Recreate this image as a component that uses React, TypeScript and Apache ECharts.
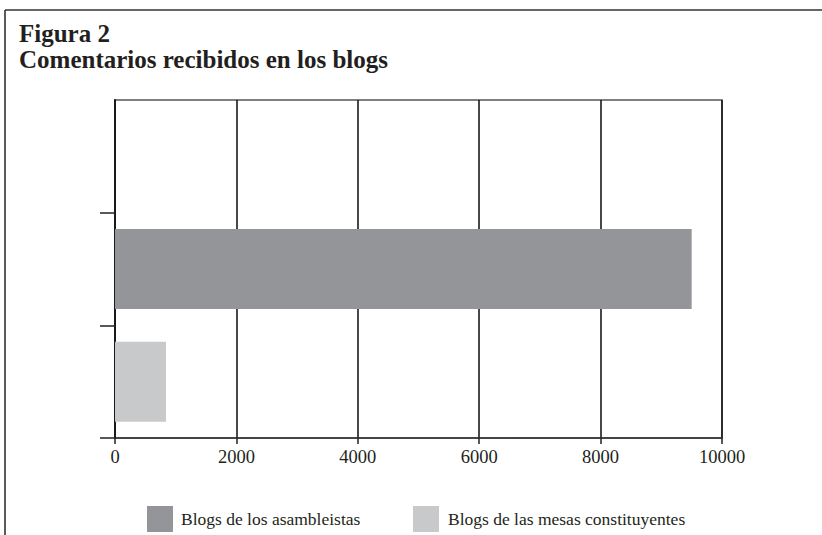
import React, { useEffect, useRef } from "react";
import * as echarts from "echarts";

const titleLines = ["Figura 2", "Comentarios recibidos en los blogs"];
const categories = ["", "Blogs de los asambleistas", "Blogs de las mesas constituyentes"];
const seriesNames = ["Blogs de los asambleistas", "Blogs de las mesas constituyentes"];
const asambleistas = [null, 9500, null];
const mesas = [null, null, 840];
const xMin = 0;
const xMax = 10000;
const xInterval = 2000;

const FONT = "'Liberation Serif', 'DejaVu Serif', serif";

export default function App() {
  const ref = useRef<HTMLDivElement>(null);
  useEffect(() => {
    document.body.style.margin = "0";
    const chart = echarts.init(ref.current!, null, { renderer: "svg" });
    chart.setOption({
      animation: false,
      backgroundColor: "#ffffff",
      title: {
        text: titleLines.join("\n"),
        left: 19,
        top: 20,
        padding: 0,
        textStyle: {
          fontFamily: FONT,
          fontSize: 25,
          fontWeight: "bold",
          lineHeight: 26.5,
          color: "#231f20",
        },
      },
      graphic: [
        { type: "line", shape: { x1: 5, y1: 10, x2: 822, y2: 10 }, style: { stroke: "#333", lineWidth: 1.6 } },
        { type: "line", shape: { x1: 5, y1: 10, x2: 5, y2: 535 }, style: { stroke: "#333", lineWidth: 1.6 } },
      ],
      legend: [
        {
          data: [seriesNames[0]],
          left: 147,
          top: 506,
          itemWidth: 26,
          itemHeight: 26,
          icon: "rect",
          padding: 0,
          textStyle: { fontFamily: FONT, fontSize: 17.5, color: "#231f20", padding: [0, 0, 0, 3] },
        },
        {
          data: [seriesNames[1]],
          left: 413,
          top: 506,
          itemWidth: 26,
          itemHeight: 26,
          icon: "rect",
          padding: 0,
          textStyle: { fontFamily: FONT, fontSize: 17.5, color: "#231f20", padding: [0, 0, 0, 4] },
        },
      ],
      grid: {
        left: 115,
        right: 100,
        top: 100,
        bottom: 97,
        show: true,
        borderColor: "#555",
        borderWidth: 1.5,
      },
      xAxis: {
        type: "value",
        min: xMin,
        max: xMax,
        interval: xInterval,
        axisLine: { show: true, lineStyle: { color: "#333", width: 1.5 } },
        axisTick: { show: true, length: 6, lineStyle: { color: "#222", width: 1.5 } },
        splitLine: { show: true, lineStyle: { color: "#1a1a1a", width: 1.6 } },
        axisLabel: {
          fontFamily: FONT,
          fontSize: 18.5,
          color: "#231f20",
          margin: 9,
          formatter: (v: number) => String(v),
        },
      },
      yAxis: {
        type: "category",
        inverse: true,
        data: categories,
        axisLine: { show: true, lineStyle: { color: "#1a1a1a", width: 2 } },
        axisTick: {
          show: true,
          length: 15,
          interval: (index: number) => index !== 0,
          lineStyle: { color: "#222", width: 1.5 },
        },
        axisLabel: { show: false },
        splitLine: { show: false },
      },
      series: [
        {
          name: seriesNames[0],
          type: "bar",
          data: asambleistas,
          barWidth: 80,
          barGap: "-100%",
          itemStyle: { color: "#939598" },
        },
        {
          name: seriesNames[1],
          type: "bar",
          data: mesas,
          barWidth: 80,
          itemStyle: { color: "#c8c9cb" },
        },
      ],
    });
    return () => chart.dispose();
  }, []);
  return <div ref={ref} style={{ width: 822, height: 535 }} />;
}
